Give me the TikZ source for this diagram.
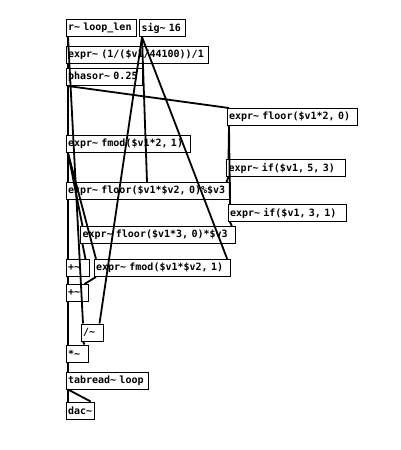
\documentclass[tikz,border=0pt]{standalone}
\usepackage{fontspec}
\newfontfamily\pdfont{DejaVu Sans Mono}
\newcommand\pdt{\textasciitilde{}}
\begin{document}
\begin{tikzpicture}[x=1pt,y=-1pt,
 pdbox/.style={draw, line width=1pt, anchor=north west, minimum height=17pt, inner xsep=2pt, inner ysep=0pt, align=left, font=\pdfont\bfseries\fontsize{10}{12}\selectfont},
 conn/.style={line width=1.8pt}]
\useasboundingbox[fill=white] (0,0) rectangle (400,450);
\node[pdbox, text width=66.4pt] (rloop) at (65.5,19) {r\pdt{} loop\_len};
\node[pdbox, text width=42.2pt] (sig) at (139,19) {sig\pdt{} 16};
\node[pdbox, text width=138.6pt] (expra) at (65.5,45.5) {expr\pdt{} (1/(\$v1/44100))/1};
\node[pdbox, text width=72.4pt] (phasor) at (65.5,68) {phasor\pdt{} 0.25};
\node[pdbox, text width=126pt] (floorb) at (226.5,108) {\mbox{expr\pdt{} floor(\$v1*2, 0)}};
\node[pdbox, text width=120.6pt] (fmoda) at (65.5,135) {expr\pdt{} fmod(\$v1*2, 1)};
\node[pdbox, text width=114.6pt] (ifa) at (226,159) {expr\pdt{} if(\$v1, 5, 3)};
\node[pdbox, text width=160pt] (floorc) at (65.5,182) {\mbox{expr\pdt{} floor(\$v1*\$v2, 0)\%\$v3}};
\node[pdbox, text width=114.6pt] (ifb) at (227.5,204) {expr\pdt{} if(\$v1, 3, 1)};
\node[pdbox, text width=150.8pt] (floord) at (80,226) {expr\pdt{} floor(\$v1*3, 0)*\$v3};
\node[pdbox, text width=19pt] (plusa) at (65.5,259) {+\pdt};
\node[pdbox, text width=132.7pt] (fmodb) at (93.5,259) {expr\pdt{} fmod(\$v1*\$v2, 1)};
\node[pdbox, text width=18pt] (plusb) at (65.5,284) {+\pdt};
\node[pdbox, text width=18pt] (div) at (80.5,323.5) {/\pdt};
\node[pdbox, text width=18pt] (mul) at (65.5,344.5) {*\pdt};
\node[pdbox, text width=78.4pt] (tab) at (65.5,371.5) {tabread\pdt{} loop};
\node[pdbox, text width=24.2pt] (dac) at (65.5,401.5) {dac\pdt};
\draw[conn] ([xshift=2.5pt]rloop.south west) -- ([xshift=2.5pt]expra.north west);
\draw[conn] ([xshift=2.5pt]rloop.south west) -- ([xshift=2.5pt]div.north west);
\draw[conn] ([xshift=2.5pt]expra.south west) -- ([xshift=2.5pt]phasor.north west);
\draw[conn] ([xshift=2.5pt]phasor.south west) -- ([xshift=2.5pt]fmoda.north west);
\draw[conn] ([xshift=2.5pt]phasor.south west) -- ([xshift=2.5pt]floorb.north west);
\draw[conn] ([xshift=3pt]sig.south west) -- ([xshift=81.5pt]floorc.north west);
\draw[conn] ([xshift=3pt]sig.south west) -- ([xshift=-4pt]fmodb.north east);
\draw[conn] ([xshift=3pt]sig.south west) -- ([xshift=-4pt]div.north east);
\draw[conn] ([xshift=2.5pt]floorb.south west) -- ([xshift=2.5pt]ifa.north west);
\draw[conn] ([xshift=2.5pt]floorb.south west) -- ([xshift=2.5pt]ifb.north west);
\draw[conn] ([xshift=2.5pt]ifa.south west) -- ([xshift=-4pt]floorc.north east);
\draw[conn] ([xshift=2.5pt]ifb.south west) -- ([xshift=-4pt]floord.north east);
\draw[conn] ([xshift=2.5pt]fmoda.south west) -- ([xshift=2.5pt]floorc.north west);
\draw[conn] ([xshift=2.5pt]fmoda.south west) -- ([xshift=2.5pt]floord.north west);
\draw[conn] ([xshift=2.5pt]fmoda.south west) -- ([xshift=2.5pt]fmodb.north west);
\draw[conn] ([xshift=2.5pt]floorc.south west) -- ([xshift=2.5pt]plusa.north west);
\draw[conn] ([xshift=2.5pt]floord.south west) -- ([xshift=-4pt]plusa.north east);
\draw[conn] ([xshift=2.5pt]plusa.south west) -- ([xshift=2.5pt]plusb.north west);
\draw[conn] ([xshift=2.5pt]fmodb.south west) -- ([xshift=-4pt]plusb.north east);
\draw[conn] ([xshift=2.5pt]plusb.south west) -- ([xshift=2.5pt]mul.north west);
\draw[conn] ([xshift=2.5pt]div.south west) -- ([xshift=-4pt]mul.north east);
\draw[conn] ([xshift=2.5pt]mul.south west) -- ([xshift=2.5pt]tab.north west);
\draw[conn] ([xshift=2.5pt]tab.south west) -- ([xshift=2.5pt]dac.north west);
\draw[conn] ([xshift=2.5pt]tab.south west) -- ([xshift=-4pt]dac.north east);
\end{tikzpicture}
\end{document}
